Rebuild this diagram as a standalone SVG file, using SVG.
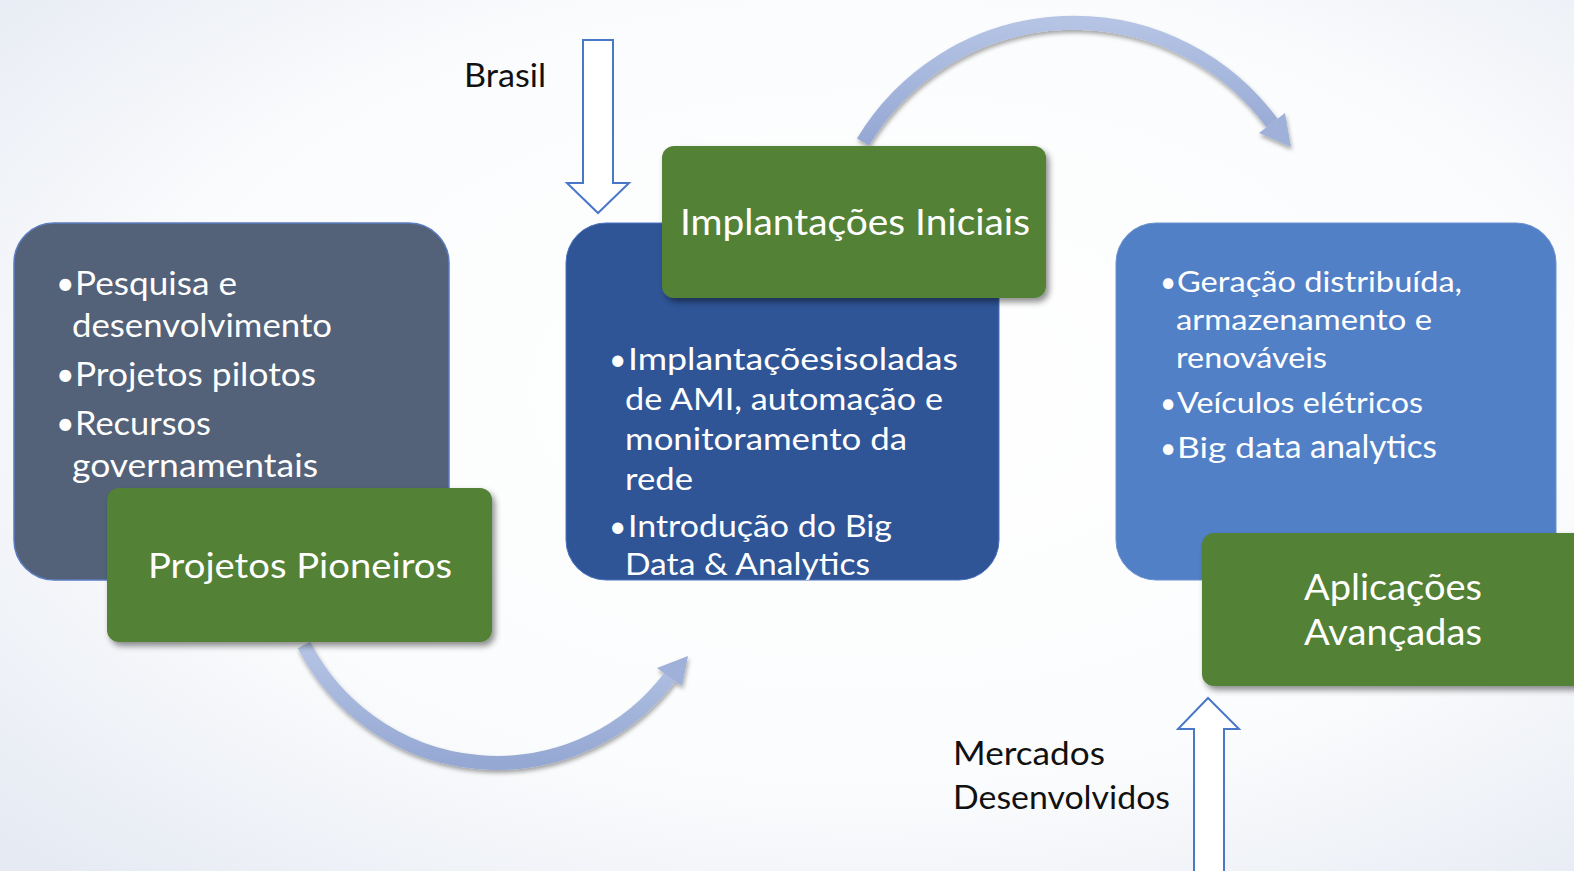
<svg xmlns="http://www.w3.org/2000/svg" width="1574" height="871" viewBox="0 0 1574 871">
<defs>
<radialGradient id="bg" cx="0.55" cy="0.45" r="0.75">
<stop offset="0" stop-color="#ffffff"/>
<stop offset="0.6" stop-color="#fbfcfd"/>
<stop offset="1" stop-color="#e6eaf3"/>
</radialGradient>
<linearGradient id="arcg" x1="0" y1="0" x2="0" y2="1">
<stop offset="0" stop-color="#b5c4e5"/>
<stop offset="1" stop-color="#95a8d3"/>
</linearGradient>
<filter id="sh" x="-10%" y="-10%" width="125%" height="130%">
<feDropShadow dx="3" dy="4" stdDeviation="3" flood-color="#000" flood-opacity="0.45"/>
</filter>
<filter id="ash" x="-10%" y="-10%" width="125%" height="130%">
<feDropShadow dx="1" dy="3" stdDeviation="2" flood-color="#000" flood-opacity="0.35"/>
</filter>
<style>
.t{font-family:Lato,"Liberation Sans",sans-serif;fill:#ffffff}
.k{font-family:Lato,"Liberation Sans",sans-serif;fill:#111111}
.green{fill:#538135;filter:url(#sh)}
.arc{fill:none;stroke:url(#arcg);stroke-width:14}
.head{fill:#9fb1d9}
.hollow{fill:#ffffff;stroke:#4a78c8;stroke-width:2}
</style>
</defs>
<rect x="0" y="0" width="1574" height="871" fill="url(#bg)"/>

<g id="connectors">
<g filter="url(#ash)">
<path class="arc" d="M 304 645 A 217 217 0 0 0 670 677"/>
<polygon class="head" points="688,656 682,686 657,668"/>
</g>
<g filter="url(#ash)">
<path class="arc" d="M 863 142 A 246 246 0 0 1 1272 123"/>
<polygon class="head" points="1291,147 1285,113 1259,133"/>
</g>
<polygon class="hollow" points="583,40 613,40 613,183 629,183 598,213 567,183 583,183"/>
<polygon class="hollow" points="1194,876 1194,729 1178,729 1208,698 1239,729 1224,729 1224,876"/>
</g>

<g id="label-brasil"><text class="k" x="464" y="87" font-size="32" textLength="82" lengthAdjust="spacingAndGlyphs">Brasil</text></g>
<g id="label-mercados">
<text class="k" x="953" y="765" font-size="32" textLength="152" lengthAdjust="spacingAndGlyphs">Mercados</text>
<text class="k" x="953" y="809" font-size="32" textLength="217" lengthAdjust="spacingAndGlyphs">Desenvolvidos</text>
</g>

<g id="box1">
<rect x="14" y="223" width="435" height="357" rx="40" fill="#536278" stroke="#5b7cc0" stroke-width="1.5"/>
<text class="t" x="56" y="295" font-size="32">•</text>
<text class="t" x="75" y="295" font-size="32" textLength="162" lengthAdjust="spacingAndGlyphs">Pesquisa e</text>
<text class="t" x="72" y="337" font-size="32" textLength="260" lengthAdjust="spacingAndGlyphs">desenvolvimento</text>
<text class="t" x="56" y="386" font-size="32">•</text>
<text class="t" x="75" y="386" font-size="32" textLength="241" lengthAdjust="spacingAndGlyphs">Projetos pilotos</text>
<text class="t" x="56" y="435" font-size="32">•</text>
<text class="t" x="75" y="435" font-size="32" textLength="136" lengthAdjust="spacingAndGlyphs">Recursos</text>
<text class="t" x="72" y="477" font-size="32" textLength="246" lengthAdjust="spacingAndGlyphs">governamentais</text>
</g>
<g id="title1">
<rect class="green" x="107" y="488" width="385" height="154" rx="12"/>
<text class="t" x="148" y="578" font-size="35" textLength="304" lengthAdjust="spacingAndGlyphs">Projetos Pioneiros</text>
</g>

<g id="box2">
<rect x="566" y="223" width="433" height="357" rx="40" fill="#2f5597" stroke="#4a72c0" stroke-width="1"/>
<text class="t" x="609" y="370" font-size="30">•</text>
<text class="t" x="628" y="370" font-size="30" textLength="330" lengthAdjust="spacingAndGlyphs">Implantaçõesisoladas</text>
<text class="t" x="625" y="410" font-size="30" textLength="318" lengthAdjust="spacingAndGlyphs">de AMI, automação e</text>
<text class="t" x="625" y="450" font-size="30" textLength="282" lengthAdjust="spacingAndGlyphs">monitoramento da</text>
<text class="t" x="625" y="490" font-size="30" textLength="68" lengthAdjust="spacingAndGlyphs">rede</text>
<text class="t" x="609" y="537" font-size="30">•</text>
<text class="t" x="628" y="537" font-size="30" textLength="264" lengthAdjust="spacingAndGlyphs">Introdução do Big</text>
<text class="t" x="625" y="575" font-size="30" textLength="245" lengthAdjust="spacingAndGlyphs">Data &amp; Analytics</text>
</g>
<g id="title2">
<rect class="green" x="662" y="146" width="384" height="152" rx="12"/>
<text class="t" x="680" y="235" font-size="37" textLength="350" lengthAdjust="spacingAndGlyphs">Implantações Iniciais</text>
</g>

<g id="box3">
<rect x="1116" y="223" width="440" height="357" rx="40" fill="#5280c7" stroke="#6a90d0" stroke-width="1"/>
<text class="t" x="1160" y="292" font-size="28">•</text>
<text class="t" x="1177" y="292" font-size="28" textLength="285" lengthAdjust="spacingAndGlyphs">Geração distribuída,</text>
<text class="t" x="1176" y="330" font-size="28" textLength="256" lengthAdjust="spacingAndGlyphs">armazenamento e</text>
<text class="t" x="1176" y="368" font-size="28" textLength="151" lengthAdjust="spacingAndGlyphs">renováveis</text>
<text class="t" x="1160" y="413" font-size="28">•</text>
<text class="t" x="1177" y="413" font-size="28" textLength="246" lengthAdjust="spacingAndGlyphs">Veículos elétricos</text>
<text class="t" x="1160" y="458" font-size="28">•</text>
<text class="t" x="1177" y="458" font-size="28"><tspan textLength="108" lengthAdjust="spacingAndGlyphs">Big dat</tspan><tspan font-size="32" textLength="152" lengthAdjust="spacingAndGlyphs">a analytics</tspan></text>
</g>
<g id="title3">
<rect class="green" x="1202" y="533" width="385" height="153" rx="12"/>
<text class="t" x="1304" y="600" font-size="36" textLength="178" lengthAdjust="spacingAndGlyphs">Aplicações</text>
<text class="t" x="1304" y="645" font-size="36" textLength="178" lengthAdjust="spacingAndGlyphs">Avançadas</text>
</g>
</svg>
